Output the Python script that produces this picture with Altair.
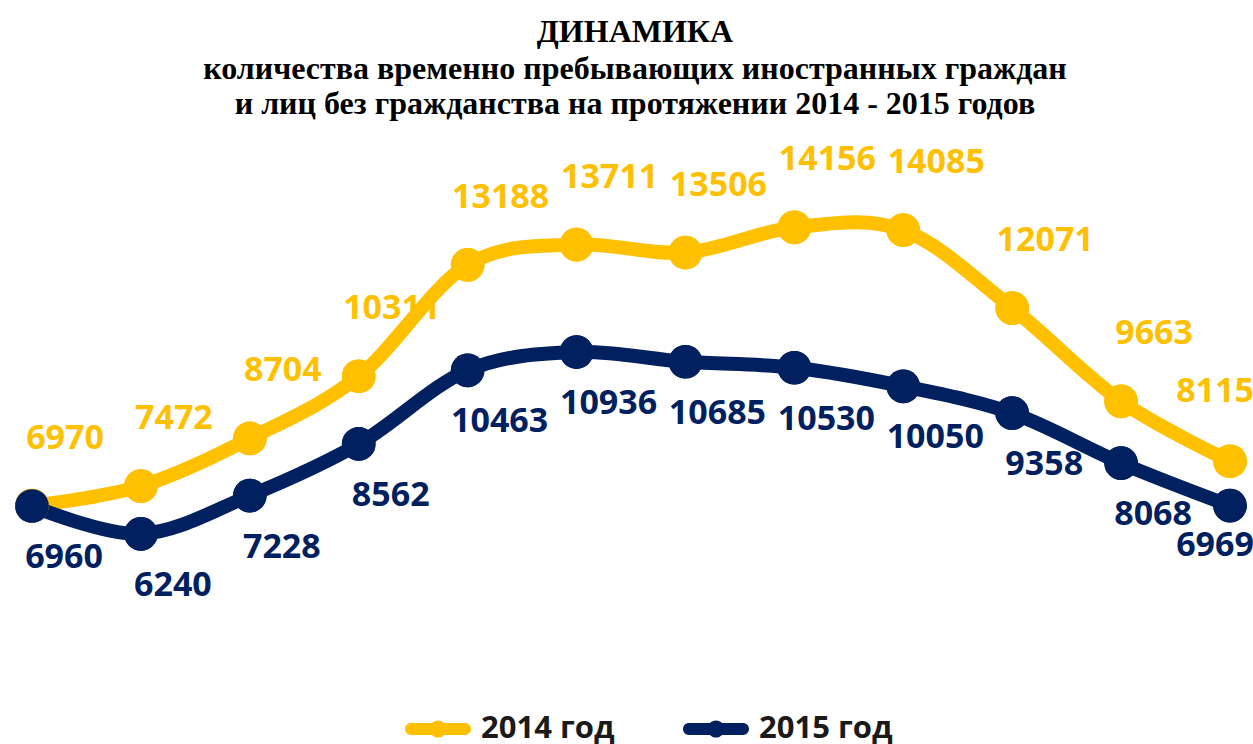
import altair as alt
import pandas as pd

idx = list(range(12))
v2014 = [6970, 7472, 8704, 10311, 13188, 13711, 13506, 14156, 14085, 12071, 9663, 8115]
v2015 = [6960, 6240, 7228, 8562, 10463, 10936, 10685, 10530, 10050, 9358, 8068, 6969]
series = ["2014 год", "2015 год"]
colors = ["#FFC000", "#002060"]

title_main = "ДИНАМИКА"
title_line2 = "количества временно пребывающих иностранных граждан"
title_line3 = "и лиц без гражданства на протяжении 2014 - 2015 годов"

rows = []
for s, vals in zip(series, [v2014, v2015]):
    for i, v in zip(idx, vals):
        rows.append({"idx": i, "value": v, "series": s})
df = pd.DataFrame(rows)

legend_path = (
    "M-0.82,-0.18 L0.82,-0.18 A0.18,0.18 0 0 1 0.82,0.18 L-0.82,0.18 "
    "A0.18,0.18 0 0 1 -0.82,-0.18 Z "
    "M-0.26,0 A0.26,0.26 0 1 1 0.26,0 A0.26,0.26 0 1 1 -0.26,0 Z"
)

x = alt.X("idx:Q", scale=alt.Scale(domain=[0, 11], nice=False, zero=False), axis=None)
y = alt.Y("value:Q", scale=alt.Scale(domain=[2000, 16000], nice=False, zero=False), axis=None)
color = alt.Color(
    "series:N",
    scale=alt.Scale(domain=series, range=colors),
    legend=alt.Legend(
        title=None,
        orient="none",
        legendX=373,
        legendY=540,
        direction="horizontal",
        symbolType=legend_path,
        symbolSize=4356,
        symbolStrokeWidth=0,
        symbolOpacity=1,
        labelFont="Open Sans",
        labelFontSize=31,
        labelFontWeight="bold",
        labelColor="#1a1a1a",
        labelOffset=10,
        columnPadding=68,
        padding=0,
    ),
)

base = alt.Chart(df).encode(x=x, y=y, color=color)

legend_carrier = base.mark_circle(size=1134, opacity=1)
lines = base.mark_line(interpolate="cardinal", strokeWidth=14, strokeCap="round")
points = base.mark_circle(size=1134, opacity=1)

def labels(s, cond, dx, dy):
    return base.mark_text(
        font="Open Sans", fontSize=34, fontWeight="bold", dx=dx, dy=dy,
        align="center", baseline="middle"
    ).encode(text=alt.Text("value:Q", format="d")).transform_filter(
        f"datum.series == '{s}' && {cond}"
    )

lab = [
    labels(series[0], "datum.idx < 11", 33, -67),
    labels(series[0], "datum.idx == 11", -15, -69),
    labels(series[1], "datum.idx < 11", 32, 52),
    labels(series[1], "datum.idx == 11", -15, 40),
]

chart = alt.layer(legend_carrier, lines, points, *lab).properties(
    width=1198,
    height=542,
    autosize=alt.AutoSizeParams(type="none"),
    padding={"left": 32, "top": 156, "right": 23, "bottom": 46},
    background="white",
    title=alt.Title(
        text=title_main,
        subtitle=[title_line2, title_line3],
        font="Liberation Serif",
        fontSize=32,
        fontWeight="bold",
        color="black",
        subtitleFont="Liberation Serif",
        subtitleFontSize=32,
        subtitleFontWeight="bold",
        subtitleColor="black",
        subtitleLineHeight=35,
        subtitlePadding=5,
        anchor="middle",
        dx=4,
        offset=22,
    ),
).configure_view(stroke=None)

chart.save("out.html", embed_options={"renderer": "svg", "actions": False})
